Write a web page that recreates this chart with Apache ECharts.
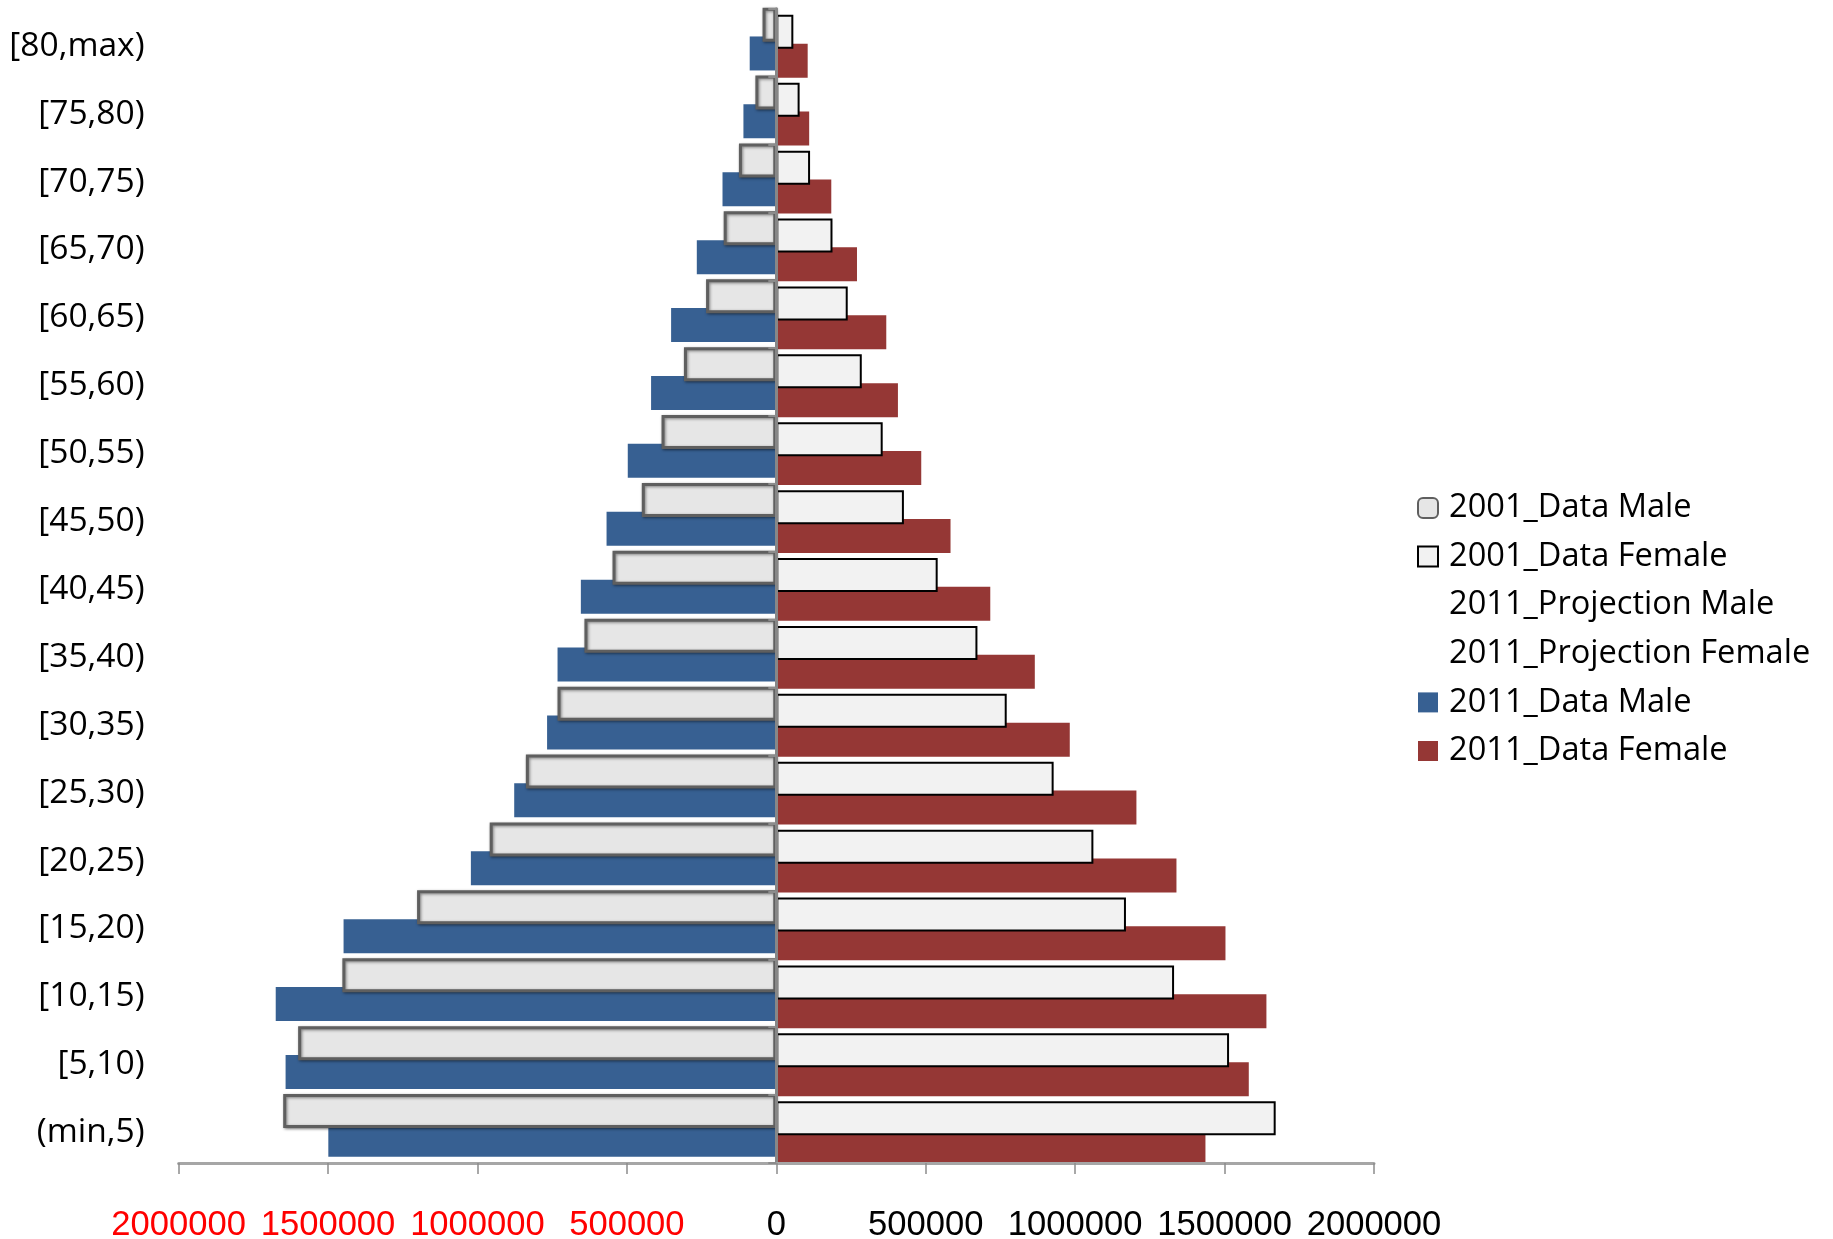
<!DOCTYPE html>
<html><head><meta charset="utf-8">
<script src="https://cdn.jsdelivr.net/npm/echarts@6/dist/echarts.min.js"></script>
<style>html,body{margin:0;padding:0;background:#fff}#c{width:1833px;height:1239px}</style>
</head><body><div id="c"></div>
<script>
// categories, bottom to top
const categories = ['(min,5)','[5,10)','[10,15)','[15,20)','[20,25)','[25,30)','[30,35)','[35,40)','[40,45)','[45,50)','[50,55)','[55,60)','[60,65)','[65,70)','[70,75)','[75,80)','[80,max)'];
const male2001   = [1650000,1600000,1452000,1202000,959000,838000,732000,642000,548000,450000,384000,309000,235000,176000,125000,70000,46000];
const female2001 = [1671000,1515000,1331000,1170000,1061000,928000,771000,673000,540000,427000,356000,286000,239000,188000,113000,78000,57000];
const projMale2011 = [];
const projFemale2011 = [];
const male2011   = [1499000,1642000,1675000,1448000,1022000,877000,767000,732000,654000,568000,497000,419000,352000,266000,180000,110000,89000];
const female2011 = [1436000,1581000,1640000,1503000,1339000,1205000,982000,865000,716000,583000,485000,407000,368000,270000,184000,110000,105000];
const seriesNames = ['2001_Data Male','2001_Data Female','2011_Projection Male','2011_Projection Female','2011_Data Male','2011_Data Female'];

const FONT = '"Open Sans", "Noto Sans", sans-serif';
const NUMFONT = '"Liberation Sans", Arial, sans-serif';
const BW = 34, GAP = '-78.8%';

const chart = echarts.init(document.getElementById('c'), null, {renderer:'canvas'});
const neg = a => a.map(v => -v);
chart.setOption({
  animation: false,
  backgroundColor: '#fff',
  grid: {left: 178.6, right: 459, top: 8.7, bottom: 76, containLabel: false, outerBoundsMode: 'none'},
  xAxis: {
    type: 'value', min: -2000000, max: 2000000, interval: 500000, z: 10,
    splitLine: {show: false},
    axisLine: {show: true, onZero: false, lineStyle: {color: '#a6a6a6', width: 3}},
    axisTick: {show: true, length: 11, lineStyle: {color: '#8c8c8c', width: 1.5}},
    axisLabel: {
      margin: 45, fontFamily: NUMFONT, fontSize: 34.6, hideOverlap: false,
      showMinLabel: true, showMaxLabel: true,
      formatter: v => String(Math.abs(v)),
      color: v => (Number(v) < 0 ? '#ff0000' : '#000000')
    }
  },
  yAxis: [{
    type: 'category', data: categories, z: 10,
    axisLine: {show: true, onZero: true, lineStyle: {color: '#878787', width: 3}},
    axisTick: {show: true, length: 8, lineStyle: {color: '#8c8c8c', width: 2}},
    axisLabel: {show: false}
  }, {
    type: 'category', data: categories, position: 'left',
    axisLine: {show: false, onZero: false}, axisTick: {show: false}, splitLine: {show: false},
    axisLabel: {margin: 34, fontFamily: FONT, fontSize: 33.6, color: '#000', verticalAlign: 'top', lineHeight: 7}
  }],
  legend: {
    orient: 'vertical', left: 1412, top: 483, itemWidth: 20, itemHeight: 20, itemGap: 8.6,
    textStyle: {fontFamily: FONT, fontSize: 32.6, lineHeight: 40, color: '#000', padding: [0,0,0,6]},
    data: [
      {name: seriesNames[0], icon: 'roundRect'},
      {name: seriesNames[1], icon: 'rect'},
      {name: seriesNames[2], icon: 'rect'},
      {name: seriesNames[3], icon: 'rect'},
      {name: seriesNames[4], icon: 'rect'},
      {name: seriesNames[5], icon: 'rect'}
    ]
  },
  series: [
    {name: seriesNames[0], type: 'bar', data: neg(male2001), barWidth: BW, barGap: GAP, z: 3,
     itemStyle: {color: '#e6e6e6', borderColor: '#5f5f5f', borderWidth: 3, shadowBlur: 3, shadowColor: 'rgba(0,0,0,0.45)', shadowOffsetX: 1, shadowOffsetY: 1}},
    {name: seriesNames[1], type: 'bar', data: female2001, barWidth: BW, barGap: GAP, z: 3,
     itemStyle: {color: '#f2f2f2', borderColor: '#000', borderWidth: 2}},
    {name: seriesNames[2], type: 'bar', data: projMale2011, barWidth: BW, barGap: GAP, z: 2,
     itemStyle: {color: 'rgba(0,0,0,0)', borderWidth: 0}},
    {name: seriesNames[3], type: 'bar', data: projFemale2011, barWidth: BW, barGap: GAP, z: 2,
     itemStyle: {color: 'rgba(0,0,0,0)', borderWidth: 0}},
    {name: seriesNames[4], type: 'bar', data: neg(male2011), barWidth: BW, barGap: GAP, z: 2,
     itemStyle: {color: '#376092'}},
    {name: seriesNames[5], type: 'bar', data: female2011, barWidth: BW, barGap: GAP, z: 2,
     itemStyle: {color: '#953735'}}
  ]
});
</script></body></html>
